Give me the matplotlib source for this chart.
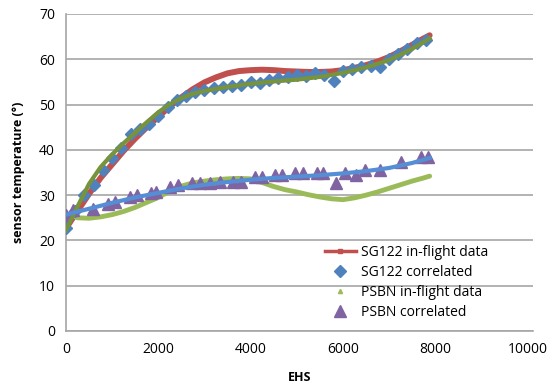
import matplotlib.pyplot as plt
from matplotlib.lines import Line2D

# SG122 in-flight data (dense line)
sg_flight_x = [0, 250, 500, 750, 1000, 1250, 1500, 1750, 2000, 2250, 2500, 2750, 3000, 3250, 3500, 3750,
               4000, 4250, 4500, 4750, 5000, 5250, 5500, 5750, 6000, 6250, 6500, 6750, 7000, 7250, 7500,
               7750, 7880]
sg_flight_y = [22.7, 26.5, 30.3, 33.8, 36.8, 39.8, 42.5, 45.0, 47.3, 49.6, 51.6, 53.4, 54.9, 56.0, 56.9, 57.4,
               57.6, 57.7, 57.6, 57.4, 57.3, 57.2, 57.2, 57.3, 57.6, 58.1, 58.7, 59.5, 60.5, 61.8, 63.2,
               64.6, 65.3]

# SG122 correlated (diamonds)
sg_corr_x = [0, 200, 400, 600, 800, 1000, 1200, 1400, 1600, 1800, 2000, 2200, 2400, 2600, 2800, 3000,
             3200, 3400, 3600, 3800, 4000, 4200, 4400, 4600, 4800, 5000, 5200, 5400, 5600, 5800, 6000,
             6200, 6400, 6600, 6800, 7000, 7200, 7400, 7600, 7800]
sg_corr_y = [22.7, 26.5, 30.0, 32.2, 35.5, 38.3, 40.5, 43.5, 44.5, 45.8, 47.5, 49.5, 51.0, 52.0, 52.8, 53.2,
             53.6, 53.8, 54.0, 54.3, 55.0, 54.8, 55.4, 55.8, 56.0, 56.5, 56.3, 56.9, 56.5, 55.2, 57.4,
             57.8, 58.3, 58.6, 58.4, 60.0, 61.2, 62.3, 63.5, 64.3]

# SG122 correlated trend line
sg_trend_x = [0, 250, 500, 750, 1000, 1250, 1500, 1750, 2000, 2250, 2500, 2750, 3000, 3500, 4000, 4500,
              5000, 5500, 6000, 6500, 7000, 7500, 7880]
sg_trend_y = [22.3, 27.5, 32.5, 36.2, 39.0, 41.5, 43.8, 46.1, 48.3, 50.1, 51.4, 52.4, 53.0, 53.9, 54.6, 55.1,
              55.5, 56.1, 57.0, 58.2, 59.8, 62.3, 64.6]

# PSBN in-flight data (dense small triangles)
ps_flight_x = [0, 250, 500, 750, 1000, 1250, 1500, 1750, 2000, 2250, 2500, 2750, 3000, 3250, 3500, 3750,
               4000, 4250, 4500, 4750, 5000, 5250, 5500, 5750, 6000, 6250, 6500, 6750, 7000, 7250, 7500,
               7750, 7880]
ps_flight_y = [26.0, 25.0, 24.9, 25.2, 25.7, 26.4, 27.3, 28.4, 29.5, 30.9, 32.0, 32.7, 33.1, 33.4, 33.6, 33.7,
               33.6, 32.8, 31.9, 31.2, 30.7, 30.1, 29.6, 29.2, 29.0, 29.4, 30.0, 30.7, 31.5, 32.3, 33.1,
               33.8, 34.2]

# PSBN correlated (triangles)
ps_corr_x = [0, 150, 590, 920, 1060, 1390, 1530, 1850, 1960, 2250, 2430, 2720, 2900, 3120, 3330, 3620,
             3800, 4090, 4240, 4520, 4670, 4960, 5140, 5430, 5570, 5860, 6040, 6290, 6470, 6800, 7270,
             7700, 7840]
ps_corr_y = [25.6, 26.7, 27.0, 28.1, 28.5, 29.6, 30.0, 30.4, 30.8, 31.9, 32.2, 32.6, 32.6, 32.6, 33.0, 33.0,
             33.0, 34.0, 34.0, 34.4, 34.4, 34.8, 34.8, 34.8, 34.8, 32.6, 34.8, 34.4, 35.5, 35.5, 37.4,
             38.5, 38.5]

# PSBN correlated trend line
ps_trend_x = [0, 500, 1000, 1500, 2000, 2500, 3000, 3500, 4000, 4500, 5000, 5500, 6000, 6500, 7000, 7500, 7880]
ps_trend_y = [25.7, 27.0, 28.3, 29.5, 30.5, 31.5, 32.3, 32.9, 33.4, 33.8, 34.1, 34.4, 34.8, 35.3, 36.0, 37.1, 38.2]

labels = ['SG122 in-flight data', 'SG122 correlated', 'PSBN in-flight data', 'PSBN correlated']

plt.rcParams['font.family'] = ['Open Sans', 'DejaVu Sans']

fig = plt.figure(figsize=(5.58, 3.85), dpi=100)
ax = fig.add_axes([66 / 558, 1 - 331 / 385, 467 / 558, 317 / 385])

ax.plot(sg_flight_x, sg_flight_y, color='#C0504D', lw=4.3, solid_capstyle='round', zorder=2)
ax.plot(sg_corr_x, sg_corr_y, ls='none', marker='D', ms=6.5, color='#4F81BD', zorder=3)
ax.plot(ps_flight_x, ps_flight_y, color='#9BBB59', lw=3.5, solid_capstyle='round', zorder=2)
ax.plot(ps_corr_x, ps_corr_y, ls='none', marker='^', ms=8, color='#8064A2', zorder=3)
ax.plot(sg_trend_x, sg_trend_y, color='#77933C', lw=3, zorder=4)
ax.plot(ps_trend_x, ps_trend_y, color='#558ED5', lw=3, zorder=4)

ax.set_xlim(0, 10120)
ax.set_ylim(0, 70)
ax.set_xticks(range(0, 10001, 2000))
ax.set_yticks(range(0, 71, 10))
ax.grid(axis='y', color='#A6A6A6', lw=1.2)
ax.set_axisbelow(True)
for s in ['top', 'right']:
    ax.spines[s].set_visible(False)
for s in ['left', 'bottom']:
    ax.spines[s].set_color('#A6A6A6')
    ax.spines[s].set_linewidth(1.2)
ax.tick_params(length=0, labelsize=10, pad=8, colors='black')
ax.set_xlabel('EHS', fontsize=9, fontweight='bold', labelpad=10)
ax.set_ylabel('sensor temperature (°)', fontsize=9, fontweight='bold', labelpad=10)

handles = [
    Line2D([], [], color='#C0504D', lw=2.5, marker='s', ms=3),
    Line2D([], [], ls='none', marker='D', ms=6.5, color='#4F81BD'),
    Line2D([], [], ls='none', marker='^', ms=3, color='#9BBB59'),
    Line2D([], [], ls='none', marker='^', ms=8, color='#8064A2'),
]
fig.legend(handles, labels, loc='upper left', bbox_to_anchor=(318 / 558, 1 - 238 / 385),
           frameon=False, fontsize=10, labelspacing=0.35, handlelength=2.2,
           borderpad=0, handletextpad=0.4)

fig.savefig('out.png', dpi=100)
